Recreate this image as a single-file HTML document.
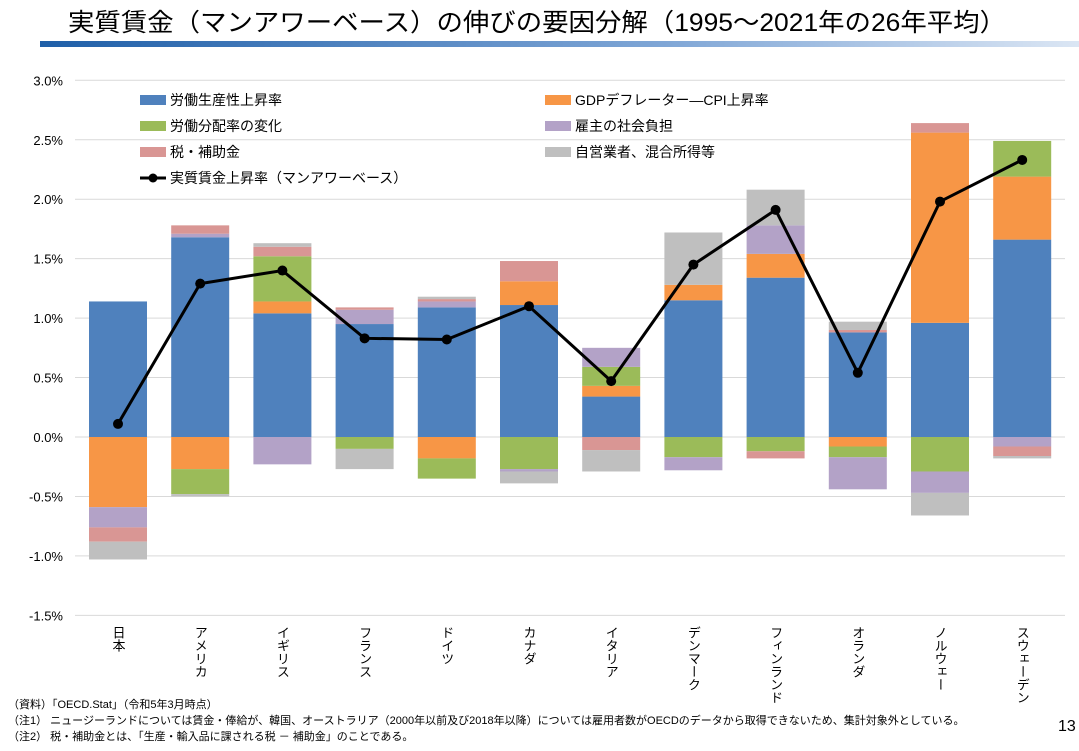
<!DOCTYPE html>
<html><head><meta charset="utf-8">
<style>
body{margin:0;background:#fff;width:1079px;height:746px;overflow:hidden;font-family:"Liberation Sans","Noto Sans CJK JP",sans-serif}
svg text{font-family:"Liberation Sans","Noto Sans CJK JP",sans-serif}
</style></head>
<body>
<svg id="c" width="1079" height="746">
<defs><linearGradient id="g" x1="0" x2="1"><stop offset="0" stop-color="#1f5fa8"/><stop offset="0.6" stop-color="#7fa6d6"/><stop offset="1" stop-color="#dbe6f4"/></linearGradient></defs>
<text x="68" y="31" font-size="25" textLength="938" lengthAdjust="spacingAndGlyphs" fill="#000">実質賃金（マンアワーベース）の伸びの要因分解（1995～2021年の26年平均）</text>
<rect x="40" y="41" width="1039" height="6" fill="url(#g)"/>
<g id="grid"></g><g id="bars"></g><g id="line"></g><g id="xl"></g>
<g id="legend" font-size="14"></g>
<text x="8" y="708" font-size="11">（資料）「OECD.Stat」（令和5年3月時点）</text>
<text x="8" y="724" font-size="11">（注1） ニュージーランドについては賃金・俸給が、韓国、オーストラリア（2000年以前及び2018年以降）については雇用者数がOECDのデータから取得できないため、集計対象外としている。</text>
<text x="8" y="740" font-size="11">（注2） 税・補助金とは、「生産・輸入品に課される税 － 補助金」のことである。</text>
<text x="1058" y="731" font-size="16">13</text>
</svg>
<script>
const categories=["日本","アメリカ","イギリス","フランス","ドイツ","カナダ","イタリア","デンマーク","フィンランド","オランダ","ノルウェー","スウェーデン"];
const productivity=[1.14,1.68,1.04,0.95,1.09,1.11,0.34,1.15,1.34,0.88,0.96,1.66];
const deflatorGap=[-0.59,-0.27,0.10,0,-0.18,0.20,0.09,0.13,0.20,-0.08,1.60,0.53];
const laborShare=[0,-0.21,0.38,-0.10,-0.17,-0.27,0.16,-0.17,-0.12,-0.09,-0.29,0.30];
const employerBurden=[-0.17,0.03,-0.23,0.12,0.05,-0.02,0.16,-0.11,0.24,-0.27,-0.18,-0.08];
const taxSubsidy=[-0.12,0.07,0.08,0.02,0.02,0.17,-0.11,0,-0.06,0.02,0.08,-0.08];
const selfEmployed=[-0.15,-0.02,0.03,-0.17,0.02,-0.10,-0.18,0.44,0.30,0.07,-0.19,-0.02];
const realWage=[0.11,1.29,1.40,0.83,0.82,1.10,0.47,1.45,1.91,0.54,1.98,2.33];
const yTicks=[3.0,2.5,2.0,1.5,1.0,0.5,0.0,-0.5,-1.0,-1.5];
const seriesNames=["労働生産性上昇率","GDPデフレーター―CPI上昇率","労働分配率の変化","雇主の社会負担","税・補助金","自営業者、混合所得等"];
const colors=["#4f81bd","#f79646","#9bbb59","#b3a2c7","#d99694","#bfbfbf"];
const NS="http://www.w3.org/2000/svg";
const y=v=>437-v*118.9, x=i=>118+i*82.2;
function mk(p,t,a){const e=document.createElementNS(NS,t);for(const k in a)e.setAttribute(k,a[k]);document.getElementById(p).appendChild(e);return e;}
yTicks.forEach(t=>{
  const l=mk('grid','line',{x1:75,x2:1065,y1:y(t),y2:y(t),stroke:'#d9d9d9'});
  
  
  const tx=mk('grid','text',{x:63,y:y(t)+5,'font-size':13,'text-anchor':'end'});tx.textContent=t.toFixed(1)+'%';
  
  
});
const series=[productivity,deflatorGap,laborShare,employerBurden,taxSubsidy,selfEmployed];
categories.forEach((c,i)=>{
  let pos=0,neg=0;
  series.forEach((s,k)=>{
    const v=s[i]; if(!v)return;
    let y0,y1;
    if(v>0){y0=pos;pos+=v;y1=pos;}else{y0=neg;neg+=v;y1=neg;}
    const r=mk('bars','rect',{x:x(i)-29,width:58,y:Math.min(y(y0),y(y1)),height:Math.abs(y(y1)-y(y0)),fill:colors[k]});
    
    
  });
  const t=mk('xl','text',{x:x(i),y:626,'font-size':13,style:'writing-mode:vertical-rl'});t.textContent=c;
  
  
});
const pl=mk('line','polyline',{points:realWage.map((v,i)=>x(i)+','+y(v)).join(' '),fill:'none',stroke:'#000','stroke-width':3});


realWage.forEach((v,i)=>{const d=mk('line','circle',{cx:x(i),cy:y(v),r:5,fill:'#000'});
  
  });
const lpos=[[140,100],[545,100],[140,126],[545,126],[140,152],[545,152]];
seriesNames.forEach((n,k)=>{
  const [lx,ly]=lpos[k];
  const r=mk('legend','rect',{x:lx,y:ly-5,width:26,height:10,fill:colors[k]});
  
  
  const t=mk('legend','text',{x:lx+30,y:ly+5});t.textContent=n;
  
  
  if(k===4){const s=mk('legend','tspan',{'font-size':10,dx:4});s.textContent='(注2)';}
});
const ll=mk('legend','line',{x1:140,x2:166,y1:178,y2:178,stroke:'#000','stroke-width':3});


mk('legend','circle',{cx:153,cy:178,r:4.5,fill:'#000'});
const lt=mk('legend','text',{x:170,y:183});lt.textContent='実質賃金上昇率（マンアワーベース）';


</script>
</body></html>
